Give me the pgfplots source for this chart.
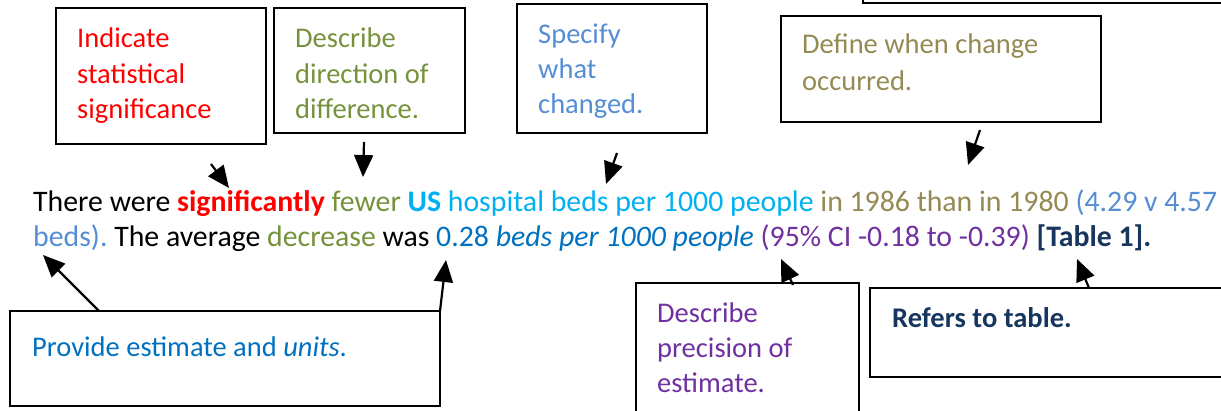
\documentclass[border=0pt]{standalone}
\usepackage{pgfplots}
\pgfplotsset{compat=1.18}
\usepackage{fontspec}
\setmainfont{Carlito}
\usetikzlibrary{arrows.meta}
\definecolor{cred}{HTML}{FF0000}
\definecolor{cgreen}{HTML}{76923C}
\definecolor{cblue}{HTML}{558ED5}
\definecolor{ccyan}{HTML}{00B0F0}
\definecolor{colive}{HTML}{948A54}
\definecolor{cdblue}{HTML}{0070C0}
\definecolor{cpurple}{HTML}{7030A0}
\definecolor{cnavy}{HTML}{17365D}
\begin{document}
\begin{tikzpicture}[
  box/.style={draw=black, line width=1.5pt},
  arr/.style={line width=2.2pt, -{Triangle[length=22pt, width=19pt]}},
  bt/.style={anchor=base west, inner sep=0pt, font=\fontsize{28.5}{34}\selectfont},
  mt/.style={anchor=base west, inner sep=0pt, font=\fontsize{29.8}{35}\selectfont},
]
\begin{axis}[at={(0,0)}, anchor=south west, scale only axis,
  width=1221pt, height=410pt, xmin=0, xmax=1221, ymin=0, ymax=410,
  y dir=reverse, hide axis, clip=false]
% boxes
\draw[box] (56,8) rectangle (266,144);
\draw[box] (274,8) rectangle (465,133);
\draw[box] (517,4) rectangle (707,133);
\draw[box] (781,16) rectangle (1101,122);
\draw[box] (863,-20) rectangle (1240,3);
\draw[box] (10,311) rectangle (440,406);
\draw[box] (636,283) rectangle (859,430);
\draw[box] (870,288) rectangle (1240,377);
% box texts
\node[bt, text=cred] at (77,47) {Indicate};
\node[bt, text=cred] at (77,83) {statistical};
\node[bt, text=cred] at (77,118) {significance};
\node[bt, text=cgreen] at (295,47) {Describe};
\node[bt, text=cgreen] at (295,83) {direction of};
\node[bt, text=cgreen] at (295,118) {difference.};
\node[bt, text=cblue] at (538,43) {Specify};
\node[bt, text=cblue] at (538,78) {what};
\node[bt, text=cblue] at (538,113) {changed.};
\node[bt, text=colive] at (802,53) {Define when change};
\node[bt, text=colive] at (802,90) {occurred.};
\node[bt, text=cdblue] at (32,356) {Provide estimate and \textit{units}.};
\node[bt, text=cpurple] at (657,322) {Describe};
\node[bt, text=cpurple] at (657,357) {precision of};
\node[bt, text=cpurple] at (657,392) {estimate.};
\node[bt, text=cnavy] at (892,327) {\textbf{Refers to table.}};
% main text
\node[mt] at (33,211) {There were \textcolor{cred}{\textbf{significantly}} \textcolor{cgreen}{fewer} \textcolor{ccyan}{\textbf{US} hospital beds per 1000 people} \textcolor{colive}{in 1986 than in 1980} \textcolor{cblue}{(4.29 v 4.57}};
\node[mt] at (33,246) {\textcolor{cblue}{beds).}\ The average \textcolor{cgreen}{decrease} was \textcolor{cdblue}{0.28 \textit{beds per 1000 people}} \textcolor{cpurple}{(95\% CI -0.18 to -0.39)} \textcolor{cnavy}{\textbf{[Table 1].}}};
% arrows
\draw[arr] (211,164) -- (229,188);
\draw[arr] (364,142) -- (363,177);
\draw[arr] (617,153) -- (606,184);
\draw[arr] (980,130) -- (968,165);
\draw[arr] (99,311) -- (43,255);
\draw[arr] (440,311) -- (446,260);
\draw[arr] (793,285) -- (781,259);
\draw[arr] (1089,288) -- (1077,259);
\end{axis}
\pgfresetboundingbox
\path (0,0) rectangle (1221pt,410pt);
\end{tikzpicture}
\end{document}
